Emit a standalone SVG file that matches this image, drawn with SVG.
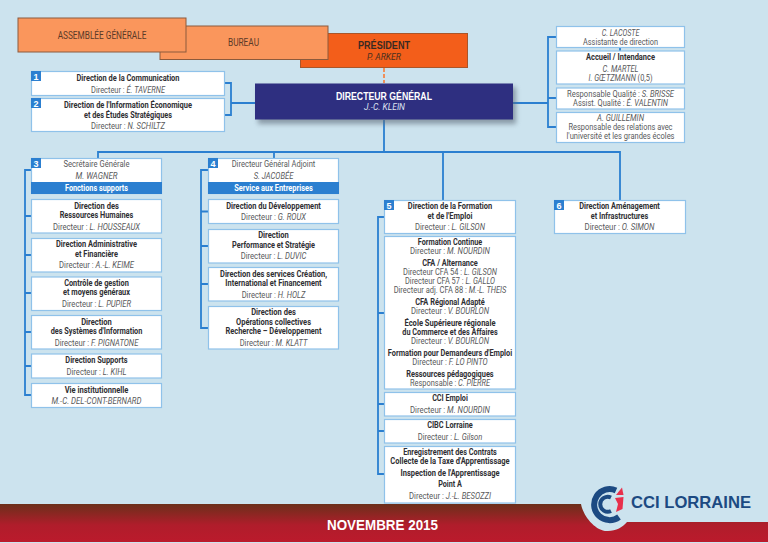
<svg xmlns="http://www.w3.org/2000/svg" width="768" height="543" viewBox="0 0 768 543">
<style>
text{font-family:"Liberation Sans Narrow","Roboto","Liberation Sans",sans-serif;font-size:8.6px;text-anchor:middle}
.b{font-weight:700;fill:#2f2f33}
.n{fill:#58595b}
.i{font-style:italic}
.h{font-size:10px;fill:#5a3a28}
.w{font-weight:700;fill:#fff}
.big{font-family:"Liberation Sans",sans-serif;font-weight:700;font-size:10.5px}
.nov{font-size:15px;fill:#fff}
.box{fill:#fff;stroke:#8fc2ea;stroke-width:1.2}
.band{fill:#2b7fd0}
.org{fill:#fa965c;stroke:#8c5a3c;stroke-width:1}
.c{fill:none;stroke:#2b7fd0;stroke-width:1.8}
.sq{fill:#2b7fd0}
.num{font-family:"Liberation Sans",sans-serif;font-weight:700;font-size:9px;fill:#fff}
.logo{font-family:"Liberation Sans",sans-serif;font-weight:700;font-size:16.5px;fill:#1c4a82}
</style>
<defs>
<linearGradient id="red" x1="0" y1="504" x2="0" y2="542" gradientUnits="userSpaceOnUse"><stop offset="0" stop-color="#6b2f1a"/><stop offset="0.55" stop-color="#b01d2b"/><stop offset="1" stop-color="#bb1a2c"/></linearGradient>
<filter id="sh" x="-5%" y="-20%" width="110%" height="150%"><feGaussianBlur stdDeviation="2.5"/></filter>
</defs>
<rect width="768" height="543" fill="#cce3ee"/>
<path id="footer" d="M0 504H581C583 516 596 532 608 531C616 531 623 527 627 522H768V542H0Z" fill="url(#red)"/>
<g id="connectors">
<path d="M384 68V83" fill="none" stroke="#f0905a" stroke-width="2" stroke-dasharray="4 2"/>
<path class="c" d="M225 83H231V115H225M231 103H255"/>
<path class="c" d="M513 103H548M556 37H548V127H556M548 98H556M620 48V51"/>
<path class="c" d="M384 120V152M98 158V152H620V200M274 152V158M443 152V200"/>
<path class="c" d="M31 170H25V395H31M25 216H31M25 255H31M25 293H31M25 332H31M25 366H31"/>
<path class="c" d="M208 170H201V328H208M201 211.500H208M201 246H208M201 284H208"/>
<path class="c" d="M384 217H378V474H384M378 313H384M378 404H384M378 431H384"/>
</g>
<g id="president"><rect x="300.500" y="33.500" width="167" height="34" fill="#f35e1a" stroke="#a9562a"/>
<text class="big" x="384" y="49" fill="#3a2a22" textLength="52" lengthAdjust="spacingAndGlyphs">PRÉSIDENT</text>
<text class="i" x="384" y="60" fill="#4a3020" textLength="34" lengthAdjust="spacingAndGlyphs">P. ARKER</text></g>
<g id="bureau"><rect class="org" x="160" y="26" width="168" height="33.500"/>
<text class="h" x="243.500" y="46" textLength="31" lengthAdjust="spacingAndGlyphs">BUREAU</text></g>
<g id="assemblee"><rect class="org" x="18" y="18" width="168" height="34"/>
<text class="h" x="102" y="38.500" textLength="88.700" lengthAdjust="spacingAndGlyphs">ASSEMBLÉE GÉNÉRALE</text></g>
<g id="directeur-general"><rect x="258" y="87" width="258" height="37" fill="#5d6b78" opacity=".6" filter="url(#sh)"/>
<rect x="255" y="83.500" width="258" height="36" fill="#2e2f80"/>
<text class="big" x="384" y="100" fill="#fff" textLength="96" lengthAdjust="spacingAndGlyphs">DIRECTEUR GÉNÉRAL</text>
<text class="i" x="384.500" y="110" fill="#dfe3f2" textLength="41" lengthAdjust="spacingAndGlyphs">J.-C. KLEIN</text></g>
<g id="n1"><rect class="box" x="31.500" y="71.500" width="193" height="24"/><rect class="sq" x="31" y="71" width="10" height="10"/><text class="num" x="36" y="79.500">1</text>
<text class="b" x="128" y="81" textLength="103" lengthAdjust="spacingAndGlyphs">Direction de la Communication</text>
<text class="n" x="128" y="93" textLength="74" lengthAdjust="spacingAndGlyphs">Directeur : <tspan class="i">É. TAVERNE</tspan></text></g>
<g id="n2"><rect class="box" x="31.500" y="98.500" width="193" height="33"/><rect class="sq" x="31" y="98" width="10" height="10"/><text class="num" x="36" y="106.500">2</text>
<text class="b" x="128" y="108" textLength="128" lengthAdjust="spacingAndGlyphs">Direction de l'Information Économique</text>
<text class="b" x="128" y="117.500" textLength="88" lengthAdjust="spacingAndGlyphs">et des Études Stratégiques</text>
<text class="n" x="128" y="129" textLength="74" lengthAdjust="spacingAndGlyphs">Directeur : <tspan class="i">N. SCHILTZ</tspan></text></g>
<g id="lacoste"><rect class="box" x="556.500" y="26.500" width="128" height="21"/>
<text class="n i" x="620.500" y="35.500" textLength="37.700" lengthAdjust="spacingAndGlyphs">C. LACOSTE</text>
<text class="n" x="620.500" y="44.500" textLength="75" lengthAdjust="spacingAndGlyphs">Assistante de direction</text></g>
<g id="accueil"><rect class="box" x="556.500" y="51" width="128" height="33"/>
<text class="b" x="620.500" y="59.700" textLength="69" lengthAdjust="spacingAndGlyphs">Accueil / Intendance</text>
<text class="n i" x="620.500" y="71.500" textLength="36" lengthAdjust="spacingAndGlyphs">C. MARTEL</text>
<text class="n" x="620.500" y="80.700" textLength="64" lengthAdjust="spacingAndGlyphs"><tspan class="i">I. GŒTZMANN</tspan> (0,5)</text></g>
<g id="qualite"><rect class="box" x="556.500" y="88" width="128" height="21"/>
<text class="n" x="620.500" y="97" textLength="107" lengthAdjust="spacingAndGlyphs">Responsable Qualité : <tspan class="i">S. BRISSE</tspan></text>
<text class="n" x="620.500" y="105.700" textLength="95" lengthAdjust="spacingAndGlyphs">Assist. Qualité : <tspan class="i">É. VALENTIN</tspan></text></g>
<g id="guillemin"><rect class="box" x="556.500" y="112.500" width="128" height="30"/>
<text class="n i" x="620.500" y="121" textLength="47" lengthAdjust="spacingAndGlyphs">A. GUILLEMIN</text>
<text class="n" x="620.500" y="130.300" textLength="104" lengthAdjust="spacingAndGlyphs">Responsable des relations avec</text>
<text class="n" x="620.500" y="139.300" textLength="108" lengthAdjust="spacingAndGlyphs">l'université et les grandes écoles</text></g>
<g id="n3"><rect class="box" x="31.500" y="158.500" width="130" height="35"/><rect class="band" x="31" y="182" width="131" height="12"/><rect class="sq" x="31" y="158" width="10" height="10"/><text class="num" x="36" y="166.500">3</text>
<text class="n" x="96.500" y="167.300" textLength="66" lengthAdjust="spacingAndGlyphs">Secrétaire Générale</text>
<text class="n i" x="96.500" y="179" textLength="42" lengthAdjust="spacingAndGlyphs">M. WAGNER</text>
<text class="w" x="96.500" y="190.700" textLength="63" lengthAdjust="spacingAndGlyphs">Fonctions supports</text></g>
<g id="rh"><rect class="box" x="31.500" y="199.500" width="130" height="33.500"/>
<text class="b" x="96.500" y="208.700" textLength="44.700" lengthAdjust="spacingAndGlyphs">Direction des</text>
<text class="b" x="96.500" y="217.700" textLength="73.700" lengthAdjust="spacingAndGlyphs">Ressources Humaines</text>
<text class="n" x="96.500" y="229.700" textLength="87" lengthAdjust="spacingAndGlyphs">Directeur : <tspan class="i">L. HOUSSEAUX</tspan></text></g>
<g id="admin"><rect class="box" x="31.500" y="238.500" width="130" height="33.500"/>
<text class="b" x="96.500" y="247.300" textLength="81" lengthAdjust="spacingAndGlyphs">Direction Administrative</text>
<text class="b" x="96.500" y="256.700" textLength="43" lengthAdjust="spacingAndGlyphs">et Financière</text>
<text class="n" x="96.500" y="268" textLength="75" lengthAdjust="spacingAndGlyphs">Directeur : <tspan class="i">A.-L. KEIME</tspan></text></g>
<g id="controle"><rect class="box" x="31.500" y="277" width="130" height="33.500"/>
<text class="b" x="96.500" y="286" textLength="64.700" lengthAdjust="spacingAndGlyphs">Contrôle de gestion</text>
<text class="b" x="96.500" y="295.300" textLength="67" lengthAdjust="spacingAndGlyphs">et moyens généraux</text>
<text class="n" x="96.500" y="306.700" textLength="69" lengthAdjust="spacingAndGlyphs">Directeur : <tspan class="i">L. PUPIER</tspan></text></g>
<g id="si"><rect class="box" x="31.500" y="315.500" width="130" height="33.500"/>
<text class="b" x="96.500" y="324.700" textLength="30.700" lengthAdjust="spacingAndGlyphs">Direction</text>
<text class="b" x="96.500" y="334" textLength="91.700" lengthAdjust="spacingAndGlyphs">des Systèmes d'Information</text>
<text class="n" x="96.500" y="345.700" textLength="83.700" lengthAdjust="spacingAndGlyphs">Directeur : <tspan class="i">F. PIGNATONE</tspan></text></g>
<g id="supports"><rect class="box" x="31.500" y="354" width="130" height="24"/>
<text class="b" x="96.500" y="363" textLength="62.300" lengthAdjust="spacingAndGlyphs">Direction Supports</text>
<text class="n" x="96.500" y="375" textLength="60" lengthAdjust="spacingAndGlyphs">Directeur : <tspan class="i">L. KIHL</tspan></text></g>
<g id="vie"><rect class="box" x="31.500" y="383.500" width="130" height="24"/>
<text class="b" x="96.500" y="392.700" textLength="63.700" lengthAdjust="spacingAndGlyphs">Vie institutionnelle</text>
<text class="n i" x="96.500" y="404" textLength="90" lengthAdjust="spacingAndGlyphs">M.-C. DEL-CONT-BERNARD</text></g>
<g id="n4"><rect class="box" x="208.500" y="158.500" width="130" height="35"/><rect class="band" x="208" y="182" width="131" height="12"/><rect class="sq" x="208" y="158" width="10" height="10"/><text class="num" x="213" y="166.500">4</text>
<text class="n" x="273.500" y="167.300" textLength="83.700" lengthAdjust="spacingAndGlyphs">Directeur Général Adjoint</text>
<text class="n i" x="273.500" y="179" textLength="39.700" lengthAdjust="spacingAndGlyphs">S. JACOBÉE</text>
<text class="w" x="273.500" y="190.700" textLength="78.700" lengthAdjust="spacingAndGlyphs">Service aux Entreprises</text></g>
<g id="dev"><rect class="box" x="208.500" y="199.500" width="130" height="24"/>
<text class="b" x="273.500" y="209" textLength="94.700" lengthAdjust="spacingAndGlyphs">Direction du Développement</text>
<text class="n" x="273.500" y="220.300" textLength="65" lengthAdjust="spacingAndGlyphs">Directeur : <tspan class="i">G. ROUX</tspan></text></g>
<g id="perf"><rect class="box" x="208.500" y="229.500" width="130" height="33.500"/>
<text class="b" x="273.500" y="238.300" textLength="30.700" lengthAdjust="spacingAndGlyphs">Direction</text>
<text class="b" x="273.500" y="247.700" textLength="83" lengthAdjust="spacingAndGlyphs">Performance et Stratégie</text>
<text class="n" x="273.500" y="259.300" textLength="65.700" lengthAdjust="spacingAndGlyphs">Directeur : <tspan class="i">L. DUVIC</tspan></text></g>
<g id="services"><rect class="box" x="208.500" y="267.500" width="130" height="33.500"/>
<text class="b" x="273.500" y="277" textLength="107" lengthAdjust="spacingAndGlyphs">Direction des services Création,</text>
<text class="b" x="273.500" y="286" textLength="96.300" lengthAdjust="spacingAndGlyphs">International et Financement</text>
<text class="n" x="273.500" y="297.700" textLength="63.700" lengthAdjust="spacingAndGlyphs">Directeur : <tspan class="i">H. HOLZ</tspan></text></g>
<g id="ops"><rect class="box" x="208.500" y="306.500" width="130" height="42.500"/>
<text class="b" x="273.500" y="315.300" textLength="44.700" lengthAdjust="spacingAndGlyphs">Direction des</text>
<text class="b" x="273.500" y="324.700" textLength="75" lengthAdjust="spacingAndGlyphs">Opérations collectives</text>
<text class="b" x="273.500" y="334" textLength="96" lengthAdjust="spacingAndGlyphs">Recherche – Développement</text>
<text class="n" x="273.500" y="345.700" textLength="67.700" lengthAdjust="spacingAndGlyphs">Directeur : <tspan class="i">M. KLATT</tspan></text></g>
<g id="n5"><rect class="box" x="384.500" y="200.500" width="131" height="33"/><rect class="sq" x="384" y="200" width="10" height="10"/><text class="num" x="389" y="208.500">5</text>
<text class="b" x="450" y="209.300" textLength="84.300" lengthAdjust="spacingAndGlyphs">Direction de la Formation</text>
<text class="b" x="450" y="218.700" textLength="45" lengthAdjust="spacingAndGlyphs">et de l'Emploi</text>
<text class="n" x="450" y="230" textLength="70" lengthAdjust="spacingAndGlyphs">Directeur : <tspan class="i">L. GILSON</tspan></text></g>
<g id="formation"><rect class="box" x="384.500" y="236.500" width="131" height="152.500"/>
<text class="b" x="450" y="245" textLength="64.300" lengthAdjust="spacingAndGlyphs">Formation Continue</text>
<text class="n" x="450" y="254.300" textLength="80" lengthAdjust="spacingAndGlyphs">Directeur : <tspan class="i">M. NOURDIN</tspan></text>
<text class="b" x="450" y="266" textLength="55.700" lengthAdjust="spacingAndGlyphs">CFA / Alternance</text>
<text class="n" x="450" y="275.300" textLength="94" lengthAdjust="spacingAndGlyphs">Directeur CFA 54 : <tspan class="i">L. GILSON</tspan></text>
<text class="n" x="450" y="284" textLength="90" lengthAdjust="spacingAndGlyphs">Directeur CFA 57 : <tspan class="i">L. GALLO</tspan></text>
<text class="n" x="450" y="293.300" textLength="112.700" lengthAdjust="spacingAndGlyphs">Directeur adj. CFA 88 : <tspan class="i">M.-L. THEIS</tspan></text>
<text class="b" x="450" y="305" textLength="69.700" lengthAdjust="spacingAndGlyphs">CFA Régional Adapté</text>
<text class="n" x="450" y="314" textLength="78" lengthAdjust="spacingAndGlyphs">Directeur : <tspan class="i">V. BOURLON</tspan></text>
<text class="b" x="450" y="326.300" textLength="91" lengthAdjust="spacingAndGlyphs">École Supérieure régionale</text>
<text class="b" x="450" y="335" textLength="95.300" lengthAdjust="spacingAndGlyphs">du Commerce et des Affaires</text>
<text class="n" x="450" y="344" textLength="78" lengthAdjust="spacingAndGlyphs">Directeur : <tspan class="i">V. BOURLON</tspan></text>
<text class="b" x="450" y="356" textLength="124.300" lengthAdjust="spacingAndGlyphs">Formation pour Demandeurs d'Emploi</text>
<text class="n" x="450" y="365" textLength="75.300" lengthAdjust="spacingAndGlyphs">Directeur : <tspan class="i">F. LO PINTO</tspan></text>
<text class="b" x="450" y="377" textLength="87.300" lengthAdjust="spacingAndGlyphs">Ressources pédagogiques</text>
<text class="n" x="450" y="386" textLength="80" lengthAdjust="spacingAndGlyphs">Responsable : <tspan class="i">C. PIERRE</tspan></text></g>
<g id="emploi"><rect class="box" x="384.500" y="392.500" width="131" height="23.500"/>
<text class="b" x="450" y="401" textLength="35.700" lengthAdjust="spacingAndGlyphs">CCI Emploi</text>
<text class="n" x="450" y="412.700" textLength="80" lengthAdjust="spacingAndGlyphs">Directeur : <tspan class="i">M. NOURDIN</tspan></text></g>
<g id="cibc"><rect class="box" x="384.500" y="419.500" width="131" height="23.500"/>
<text class="b" x="450" y="428" textLength="45.700" lengthAdjust="spacingAndGlyphs">CIBC Lorraine</text>
<text class="n" x="450" y="439.700" textLength="64.700" lengthAdjust="spacingAndGlyphs">Directeur : <tspan class="i">L. Gilson</tspan></text></g>
<g id="enreg"><rect class="box" x="384.500" y="446.500" width="131" height="56.500"/>
<text class="b" x="450" y="455" textLength="93.700" lengthAdjust="spacingAndGlyphs">Enregistrement des Contrats</text>
<text class="b" x="450" y="464.300" textLength="119.300" lengthAdjust="spacingAndGlyphs">Collecte de la Taxe d'Apprentissage</text>
<text class="b" x="450" y="476" textLength="99" lengthAdjust="spacingAndGlyphs">Inspection de l'Apprentissage</text>
<text class="b" x="450" y="487" textLength="23.700" lengthAdjust="spacingAndGlyphs">Point A</text>
<text class="n" x="450" y="498.700" textLength="82" lengthAdjust="spacingAndGlyphs">Directeur : <tspan class="i">J.-L. BESOZZI</tspan></text></g>
<g id="n6"><rect class="box" x="554.500" y="200.500" width="131" height="33"/><rect class="sq" x="554" y="200" width="10" height="10"/><text class="num" x="559" y="208.500">6</text>
<text class="b" x="619.500" y="209.300" textLength="80.700" lengthAdjust="spacingAndGlyphs">Direction Aménagement</text>
<text class="b" x="619.500" y="218.700" textLength="57.300" lengthAdjust="spacingAndGlyphs">et Infrastructures</text>
<text class="n" x="619.500" y="230" textLength="70" lengthAdjust="spacingAndGlyphs">Directeur : <tspan class="i">O. SIMON</tspan></text></g>
<text class="big nov" x="382.500" y="529.500" textLength="111" lengthAdjust="spacingAndGlyphs">NOVEMBRE 2015</text>
<g id="logo">
<path d="M616 490.500A15.500 15.500 0 1 0 619 517" fill="none" stroke="#1c4a82" stroke-width="6"/>
<path d="M611 497.500A7.500 7.500 0 1 0 611 511" fill="none" stroke="#1c4a82" stroke-width="4"/>
<path d="M616 495L622 487.500L623.500 495Z" fill="#e8304c"/>
<path d="M615 498L623.500 497L622.500 509L616 512L618 504Z" fill="#e8304c"/>
<text class="logo" x="691" y="508" textLength="120" lengthAdjust="spacingAndGlyphs">CCI LORRAINE</text>
</g>
</svg>
